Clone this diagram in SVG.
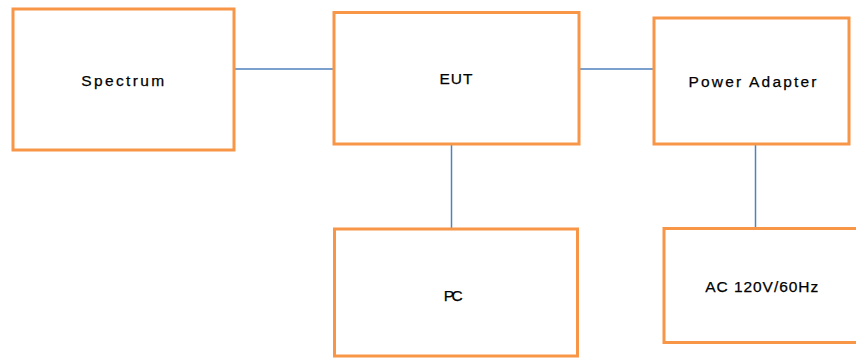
<svg xmlns="http://www.w3.org/2000/svg" width="856" height="358" viewBox="0 0 856 358">
<style>
.box{fill:#fff;stroke:#F79646;stroke-width:3}
.lbl{font-family:"Liberation Sans",Arial,sans-serif;font-size:15.5px;fill:#000;text-anchor:middle;stroke:#000;stroke-width:0.25}
.con{stroke:#4F81BD;stroke-width:1.5;fill:none}
</style>
<rect width="856" height="358" fill="#fff"/>
<g id="connectors">
<line class="con" x1="234.5" y1="69" x2="334" y2="69"/>
<line class="con" x1="579" y1="69" x2="654" y2="69"/>
<line class="con" x1="451.5" y1="144" x2="451.5" y2="229"/>
<line class="con" x1="755.5" y1="144" x2="755.5" y2="228"/>
</g>
<g id="spectrum">
<rect class="box" x="13" y="9" width="221" height="141"/>
<text class="lbl" x="122.7" y="86" textLength="83" lengthAdjust="spacing">Spectrum</text>
</g>
<g id="eut">
<rect class="box" x="334" y="12.5" width="245" height="131.5"/>
<text class="lbl" x="456" y="84" textLength="33" lengthAdjust="spacing">EUT</text>
</g>
<g id="power-adapter">
<rect class="box" x="654" y="18" width="195" height="126"/>
<text class="lbl" x="752.5" y="87" textLength="128" lengthAdjust="spacing">Power Adapter</text>
</g>
<g id="pc">
<rect class="box" x="334.5" y="229" width="243" height="127"/>
<text class="lbl" x="453.3" y="300.5" textLength="19" lengthAdjust="spacing">PC</text>
</g>
<g id="ac">
<rect class="box" x="664" y="228.5" width="200" height="114"/>
<text class="lbl" x="761.7" y="291.5" textLength="113" lengthAdjust="spacing">AC 120V/60Hz</text>
</g>
</svg>
